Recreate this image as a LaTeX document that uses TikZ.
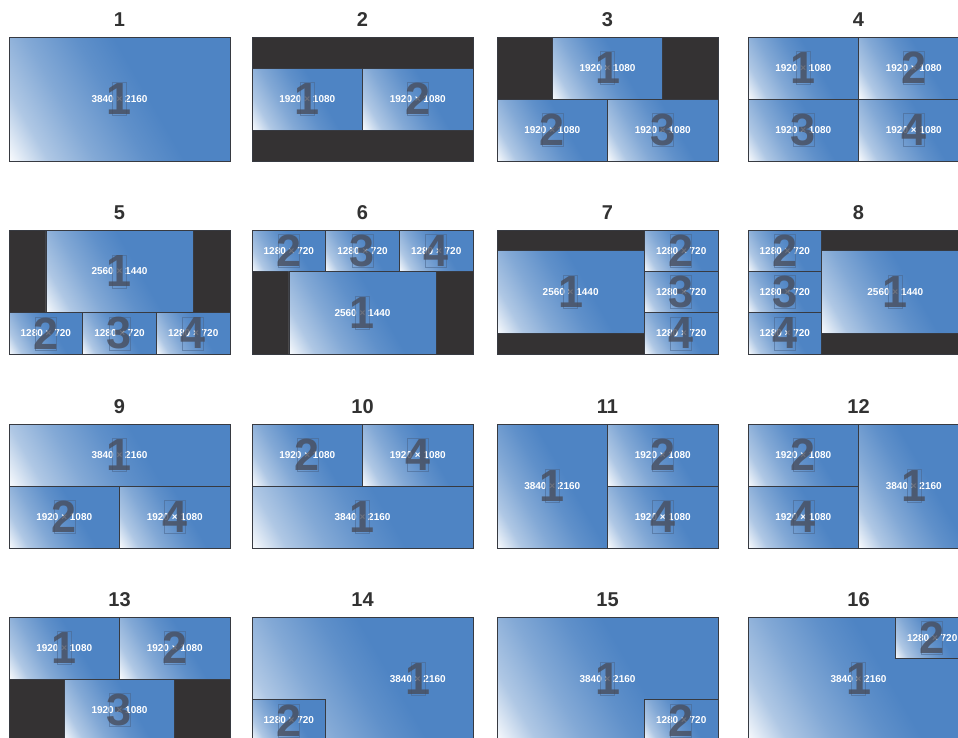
\documentclass[tikz,border=0pt]{standalone}
\usepackage{fontspec}
\setmainfont{Liberation Sans}
\usepackage{tikz}
\definecolor{scr}{RGB}{78,132,196}
\definecolor{bgd}{RGB}{52,50,51}
\definecolor{dig}{RGB}{72,77,92}
\definecolor{rimc}{RGB}{55,58,65}
\definecolor{ttlc}{RGB}{50,50,50}
\pgfdeclarehorizontalshading{scrshade}{100bp}{color(0bp)=(white); color(15bp)=(white);
  color(25bp)=(scr!45!white); color(36bp)=(scr!70!white); color(48bp)=(scr!90!white);
  color(57bp)=(scr); color(100bp)=(scr)}
\newcommand{\win}[7][0]{%
  \ifnum#2=1 \def\fw{14pt}\else\def\fw{21pt}\fi
  \shadedraw[winbox] (#3,#4) rectangle ++(#5,#6);
  \node[res] (\pid w#2) at ({#3+#5/2+#1},{#4+#6/2}) {#7};
  \node[digbox,minimum width=\fw] (\pid f#2) at (\pid w#2) {};
  \node[digit] (\pid n#2) at (\pid w#2) {#2};}

\begin{document}
\begin{tikzpicture}[x=1pt,y=-1pt,
  screen/.style 2 args={xshift=#1pt,yshift=-#2pt,x=0.05755pt,y=-0.05741pt},
  winbox/.style={shading=scrshade,shading angle=30,draw=rimc,line width=0.6pt},
  res/.style={text=white,font=\fontsize{10}{10}\selectfont\bfseries,inner sep=0pt},
  digit/.style={text=dig,text opacity=0.8,font=\fontsize{45}{45}\selectfont\bfseries,inner sep=0pt},
  digbox/.style={draw=dig!50!scr,draw opacity=0.6,line width=0.4pt,minimum height=33pt,inner sep=0pt},
  ttl/.style={text=ttlc,font=\fontsize{20}{20}\selectfont\bfseries},
  bg/.style={fill=bgd},
  rim/.style={draw=rimc,line width=0.8pt}]
  \useasboundingbox (0,0) rectangle (958,737);
  \clip (0,0) rectangle (958,737);

  \begin{scope}[screen={9}{37}]\def\pid{p1}
    \node[ttl] (\pid t) at (1920,-300) {1};
    \win{1}{0}{0}{3840}{2160}{3840 × 2160}
    \draw[rim] (0,0) rectangle (3840,2160);
  \end{scope}
  \begin{scope}[screen={252}{37}]\def\pid{p2}
    \node[ttl] (\pid t) at (1920,-300) {2};
    \fill[bg] (0,0) rectangle (3840,2160);
    \win{1}{0}{540}{1920}{1080}{1920 × 1080}
    \win{2}{1920}{540}{1920}{1080}{1920 × 1080}
    \draw[rim] (0,0) rectangle (3840,2160);
  \end{scope}
  \begin{scope}[screen={497}{37}]\def\pid{p3}
    \node[ttl] (\pid t) at (1920,-300) {3};
    \fill[bg] (0,0) rectangle (3840,2160);
    \win{1}{960}{0}{1920}{1080}{1920 × 1080}
    \win{2}{0}{1080}{1920}{1080}{1920 × 1080}
    \win{3}{1920}{1080}{1920}{1080}{1920 × 1080}
    \draw[rim] (0,0) rectangle (3840,2160);
  \end{scope}
  \begin{scope}[screen={748}{37}]\def\pid{p4}
    \node[ttl] (\pid t) at (1920,-300) {4};
    \win{1}{0}{0}{1920}{1080}{1920 × 1080}
    \win{2}{1920}{0}{1920}{1080}{1920 × 1080}
    \win{3}{0}{1080}{1920}{1080}{1920 × 1080}
    \win{4}{1920}{1080}{1920}{1080}{1920 × 1080}
    \draw[rim] (0,0) rectangle (3840,2160);
  \end{scope}

  \begin{scope}[screen={9}{230}]\def\pid{p5}
    \node[ttl] (\pid t) at (1920,-300) {5};
    \fill[bg] (0,0) rectangle (3840,2160);
    \win{1}{640}{0}{2560}{1440}{2560 × 1440}
    \win{2}{0}{1440}{1280}{720}{1280 × 720}
    \win{3}{1280}{1440}{1280}{720}{1280 × 720}
    \win{4}{2560}{1440}{1280}{720}{1280 × 720}
    \draw[rim] (0,0) rectangle (3840,2160);
  \end{scope}
  \begin{scope}[screen={252}{230}]\def\pid{p6}
    \node[ttl] (\pid t) at (1920,-300) {6};
    \fill[bg] (0,0) rectangle (3840,2160);
    \win{2}{0}{0}{1280}{720}{1280 × 720}
    \win{3}{1280}{0}{1280}{720}{1280 × 720}
    \win{4}{2560}{0}{1280}{720}{1280 × 720}
    \win{1}{640}{720}{2560}{1440}{2560 × 1440}
    \draw[rim] (0,0) rectangle (3840,2160);
  \end{scope}
  \begin{scope}[screen={497}{230}]\def\pid{p7}
    \node[ttl] (\pid t) at (1920,-300) {7};
    \fill[bg] (0,0) rectangle (3840,2160);
    \win{1}{0}{360}{2560}{1440}{2560 × 1440}
    \win{2}{2560}{0}{1280}{720}{1280 × 720}
    \win{3}{2560}{720}{1280}{720}{1280 × 720}
    \win{4}{2560}{1440}{1280}{720}{1280 × 720}
    \draw[rim] (0,0) rectangle (3840,2160);
  \end{scope}
  \begin{scope}[screen={748}{230}]\def\pid{p8}
    \node[ttl] (\pid t) at (1920,-300) {8};
    \fill[bg] (0,0) rectangle (3840,2160);
    \win{2}{0}{0}{1280}{720}{1280 × 720}
    \win{3}{0}{720}{1280}{720}{1280 × 720}
    \win{4}{0}{1440}{1280}{720}{1280 × 720}
    \win{1}{1280}{360}{2560}{1440}{2560 × 1440}
    \draw[rim] (0,0) rectangle (3840,2160);
  \end{scope}

  \begin{scope}[screen={9}{424}]\def\pid{p9}
    \node[ttl] (\pid t) at (1920,-300) {9};
    \win{1}{0}{0}{3840}{1080}{3840 × 2160}
    \win{2}{0}{1080}{1920}{1080}{1920 × 1080}
    \win{4}{1920}{1080}{1920}{1080}{1920 × 1080}
    \draw[rim] (0,0) rectangle (3840,2160);
  \end{scope}
  \begin{scope}[screen={252}{424}]\def\pid{p10}
    \node[ttl] (\pid t) at (1920,-300) {10};
    \win{2}{0}{0}{1920}{1080}{1920 × 1080}
    \win{4}{1920}{0}{1920}{1080}{1920 × 1080}
    \win{1}{0}{1080}{3840}{1080}{3840 × 2160}
    \draw[rim] (0,0) rectangle (3840,2160);
  \end{scope}
  \begin{scope}[screen={497}{424}]\def\pid{p11}
    \node[ttl] (\pid t) at (1920,-300) {11};
    \win{1}{0}{0}{1920}{2160}{3840 × 2160}
    \win{2}{1920}{0}{1920}{1080}{1920 × 1080}
    \win{4}{1920}{1080}{1920}{1080}{1920 × 1080}
    \draw[rim] (0,0) rectangle (3840,2160);
  \end{scope}
  \begin{scope}[screen={748}{424}]\def\pid{p12}
    \node[ttl] (\pid t) at (1920,-300) {12};
    \win{2}{0}{0}{1920}{1080}{1920 × 1080}
    \win{4}{0}{1080}{1920}{1080}{1920 × 1080}
    \win{1}{1920}{0}{1920}{2160}{3840 × 2160}
    \draw[rim] (0,0) rectangle (3840,2160);
  \end{scope}

  \begin{scope}[screen={9}{617}]\def\pid{p13}
    \node[ttl] (\pid t) at (1920,-300) {13};
    \fill[bg] (0,0) rectangle (3840,2160);
    \win{1}{0}{0}{1920}{1080}{1920 × 1080}
    \win{2}{1920}{0}{1920}{1080}{1920 × 1080}
    \win{3}{960}{1080}{1920}{1080}{1920 × 1080}
    \draw[rim] (0,0) rectangle (3840,2160);
  \end{scope}
  \begin{scope}[screen={252}{617}]\def\pid{p14}
    \node[ttl] (\pid t) at (1920,-300) {14};
    \win[960]{1}{0}{0}{3840}{2160}{3840 × 2160}
    \win{2}{0}{1440}{1280}{720}{1280 × 720}
    \draw[rim] (0,0) rectangle (3840,2160);
  \end{scope}
  \begin{scope}[screen={497}{617}]\def\pid{p15}
    \node[ttl] (\pid t) at (1920,-300) {15};
    \win{1}{0}{0}{3840}{2160}{3840 × 2160}
    \win{2}{2560}{1440}{1280}{720}{1280 × 720}
    \draw[rim] (0,0) rectangle (3840,2160);
  \end{scope}
  \begin{scope}[screen={748}{617}]\def\pid{p16}
    \node[ttl] (\pid t) at (1920,-300) {16};
    \win{1}{0}{0}{3840}{2160}{3840 × 2160}
    \win{2}{2560}{0}{1280}{720}{1280 × 720}
    \draw[rim] (0,0) rectangle (3840,2160);
  \end{scope}
\end{tikzpicture}
\end{document}
